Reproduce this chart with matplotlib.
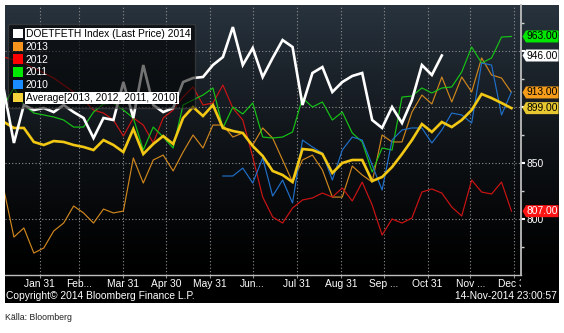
import numpy as np
import pandas as pd
import matplotlib
matplotlib.use("Agg")
import matplotlib.pyplot as plt
import matplotlib.dates as mdates
from matplotlib.patches import Patch, Polygon
from matplotlib.transforms import Bbox, TransformedBbox
from matplotlib import font_manager
from datetime import datetime

plt.rcParams['font.family'] = ['Liberation Sans', 'DejaVu Sans']

# ---------------------------------------------------------------- data
week_dates = pd.date_range('2014-01-06', periods=52, freq='7D')

price_2014 = [915.0, 867.9, 901.8, 897.3, 899.1, 895.5, 901.8, 895.5, 890.2, 872.3,
              890.2, 888.4, 922.3, 890.2, 937.5, 901.8, 895.5, 899.1, 922.3, 925.9,
              926.8, 937.5, 944.6, 971.4, 937.5, 952.7, 926.8, 943.8, 959.8, 953.6,
              901.8, 930.4, 935.7, 913.4, 922.3, 927.7, 930.4, 888.4, 881.3, 900.0,
              885.7, 906.3, 937.5, 928.6, 946.0]

price_2013 = [825.9, 783.9, 792.0, 769.6, 774.1, 789.3, 796.4, 811.6, 805.4, 796.4,
              808.9, 805.4, 807.1, 854.5, 832.1, 852.7, 857.1, 842.9, 859.8, 875.0,
              863.4, 883.9, 883.9, 873.2, 876.8, 866.1, 881.3, 872.3, 852.7, 833.0,
              852.7, 857.1, 843.8, 819.6, 819.6, 847.3, 839.3, 833.0, 875.0, 868.8,
              868.8, 895.5, 910.7, 902.7, 926.8, 904.5, 926.8, 913.4, 943.8, 928.6,
              925.9, 913.0]

price_2012 = [944.6, 942.0, 939.3, 934.8, 930.4, 925.9, 919.6, 913.4, 906.3, 897.3,
              894.6, 888.4, 874.1, 890.2, 883.9, 867.9, 890.2, 897.3, 908.9, 917.9,
              901.8, 903.6, 919.6, 899.1, 888.4, 855.4, 819.6, 801.8, 796.4, 809.8,
              817.0, 818.8, 823.2, 819.6, 827.7, 816.1, 833.0, 812.5, 785.7, 800.0,
              796.4, 800.9, 824.1, 826.8, 823.2, 810.7, 802.7, 834.8, 824.1, 822.3,
              833.0, 807.0]

price_2011 = [901.8, 917.0, 901.8, 894.6, 892.9, 891.1, 888.4, 882.1, 882.1, 895.5,
              902.7, 903.6, 897.3, 890.2, 861.6, 882.1, 873.2, 863.4, 901.8, 906.3,
              910.7, 917.0, 881.3, 900.0, 893.8, 903.6, 873.2, 872.3, 873.2, 877.7,
              908.0, 900.0, 904.5, 888.4, 895.5, 876.8, 868.8, 842.0, 863.4, 861.6,
              908.9, 909.8, 917.0, 912.5, 917.0, 917.9, 931.3, 953.6, 939.3, 943.8,
              962.5, 963.0]

price_2010 = [None] * 22 + [
              838.4, 838.4, 845.5, 832.1, 854.5, 820.5, 834.8, 814.3, 870.5, 864.3,
              858.9, 834.8, 861.6, 873.2, 870.5, 848.2, 825.9, 870.5, 879.5, 881.3,
              881.3, 867.9, 879.5, 894.6, 892.9, 885.7, 939.3, 937.5, 892.9, 913.4]

price_avg = [886.6, 881.3, 881.3, 868.8, 866.1, 869.6, 868.8, 866.1, 864.3, 861.6,
             870.5, 866.1, 859.8, 880.4, 858.0, 867.0, 874.1, 867.0, 890.2, 900.0,
             892.0, 901.8, 881.3, 878.6, 876.8, 865.2, 856.3, 842.9, 839.3, 833.0,
             862.5, 861.6, 858.0, 841.1, 850.0, 852.7, 852.7, 833.9, 837.5, 846.4,
             858.0, 870.5, 884.8, 877.7, 886.6, 882.1, 888.4, 897.3, 911.6, 908.0,
             903.6, 899.0]

month_ticks = pd.date_range('2014-01-31', periods=12, freq='ME')
month_labels = ["Jan 31", "Feb...", "Mar 31", "Apr 30", "May 31", "Jun...",
                "Jul 31", "Aug 31", "Sep ...", "Oct 31", "Nov ...", "Dec 31"]

legend_labels = ["DOETFETH Index (Last Price) 2014", "2013", "2012", "2011", "2010",
                 "Average[2013, 2012, 2011, 2010]"]

# ---------------------------------------------------------------- figure
W, H = 564, 333
fig = plt.figure(figsize=(W / 100, H / 100), dpi=100)
fig.patch.set_facecolor('white')
FS = 7.4

# dark terminal panel with a vertical gradient
bg = fig.add_axes([0, 0, 1, 1], zorder=0)
bg.set_xlim(0, W)
bg.set_ylim(H, 0)
bg.axis('off')
rows = np.linspace(0, 1, 300)
top = np.array([40, 51, 62]) / 255.0
fade = np.clip(1 - rows / 0.92, 0, 1) ** 1.35
img = (top[None, :] * fade[:, None])[:, None, :]
bg.imshow(img, extent=(5, 559, 303, 5), aspect='auto', interpolation='bilinear', zorder=0)

bg.text(6, 296, "Copyright\u00a9 2014 Bloomberg Finance L.P.", color='white',
        fontsize=FS, va='center', ha='left')
bg.text(557, 296, "14-Nov-2014 23:00:57", color='white', fontsize=FS,
        va='center', ha='right')

narrow = [f.name for f in font_manager.fontManager.ttflist if f.name == 'Liberation Sans Narrow']
if narrow:
    bg.text(5, 318, "K\u00e4lla: Bloomberg", color='#222222', fontsize=7.4,
            family=['Liberation Sans Narrow', 'DejaVu Sans'], va='center', ha='left')
else:
    bg.text(5, 318, "K\u00e4lla: Bloomberg", color='#222222', fontsize=6.3,
            va='center', ha='left')

# main plotting area
ax_rect = [5 / W, 1 - 275 / H, (521 - 5) / W, (275 - 5) / H]
ax = fig.add_axes(ax_rect, zorder=1)
ax.patch.set_alpha(0)

x = mdates.date2num(week_dates.to_pydatetime())
x14 = x[:len(price_2014)]
y10 = np.array(price_2010, dtype=float)

ax.plot(x, price_2013, color='#cf861d', lw=0.85, zorder=2)
ax.plot(x, price_2012, color='#cc1414', lw=0.85, zorder=2)
ax.plot(x, price_2011, color='#16c416', lw=0.85, zorder=2)
ax.plot(x, y10, color='#1f6fc9', lw=0.85, zorder=2)
ax.plot(x, price_avg, color='#f2c814', lw=1.9, zorder=3, solid_joinstyle='miter')
ax.plot(x14, price_2014, color='white', lw=1.9, zorder=4, solid_joinstyle='miter')

YMIN, YMAX = 750.0, 991.1
ax.set_ylim(YMIN, YMAX)
ax.set_xlim(mdates.date2num(datetime(2014, 1, 6, 17, 30)),
            mdates.date2num(datetime(2015, 1, 4, 17, 0)))

# axes styling
for s in ('top', 'left'):
    ax.spines[s].set_visible(False)
ax.spines['bottom'].set_color('#bdbdbd')
ax.spines['bottom'].set_linewidth(1.0)
ax.spines['right'].set_color('#bdbdbd')
ax.spines['right'].set_linewidth(1.3)

ax.set_xticks(mdates.date2num(month_ticks.to_pydatetime()))
ax.set_xticklabels(month_labels)
ax.tick_params(axis='x', direction='out', length=2.5, width=0.8, color='#8f8f8f',
               labelcolor='white', labelsize=FS, pad=0.5)

# the 900 and 950 labels sit under the last-value tags
ax.yaxis.tick_right()
ax.set_yticks([800, 850, 900, 950])
ax.set_yticklabels(['800', '850', '', ''])
ax.set_yticks([775, 825, 875, 925, 975], minor=True)
ax.tick_params(axis='y', which='major', direction='out', length=3, width=1.5,
               color='white', labelcolor='white', labelsize=FS, pad=1)
ax.tick_params(axis='y', which='minor', direction='out', length=2.5, width=1.0,
               color='#cfcfcf')

ax.grid(True, which='major', color='#8f8f8f', linestyle=(0, (1, 2)), linewidth=0.8)
ax.set_axisbelow(True)

# date labels are cut off at the right-hand axis line
clip = TransformedBbox(Bbox.from_extents(0, 0, 521 / W, 1), fig.transFigure)
for lab in ax.get_xticklabels():
    lab.set_clip_on(True)
    lab.set_clip_box(clip)

# legend
swatches = ['#ffffff', '#f7941d', '#ff0000', '#00e800', '#1a8cff', '#f4d23c']
handles = [Patch(facecolor=c, edgecolor='none') for c in swatches]
leg = ax.legend(handles, legend_labels, loc='upper left',
                bbox_to_anchor=(8 / W, 1 - 24 / H), bbox_transform=fig.transFigure,
                borderaxespad=0, fontsize=FS, handlelength=1.0, handleheight=1.0,
                handletextpad=0.3, labelspacing=0.27, borderpad=0.45,
                frameon=True, facecolor='black', framealpha=0.55,
                edgecolor='#4a4a4a', fancybox=True)
leg.set_zorder(6)
for i, t in enumerate(leg.get_texts()):
    if i in (0, 5):
        t.set_color('black')
        t.set_bbox(dict(facecolor='white', edgecolor='none', pad=0.6))
    else:
        t.set_color('white')

# last-value tags on the right axis
tag_ax = fig.add_axes([521 / W, ax_rect[1], 38 / W, ax_rect[3]], zorder=3)
tag_ax.set_xlim(0, 38)
tag_ax.set_ylim(YMIN, YMAX)
tag_ax.axis('off')
tag_ax.patch.set_alpha(0)
units_per_px = (YMAX - YMIN) / 270.0
half = 6.0 * units_per_px


def value_tag(value, face, text_color):
    pts = [(1.5, value), (5, value + half), (37.5, value + half),
           (37.5, value - half), (5, value - half)]
    tag_ax.add_patch(Polygon(pts, closed=True, facecolor=face, edgecolor='none',
                             clip_on=False))
    tag_ax.text(21, value, f"{value:.2f}", color=text_color, fontsize=FS,
                ha='center', va='center', clip_on=False)


value_tag(price_2011[-1], '#00e600', 'black')
value_tag(price_2014[-1], '#ffffff', 'black')
value_tag(price_2013[-1], '#f59c1a', 'black')
value_tag(price_avg[-1], '#e8c830', 'black')
value_tag(price_2012[-1], '#ff1414', 'white')

fig.savefig('out.png', dpi=100, facecolor='white')
